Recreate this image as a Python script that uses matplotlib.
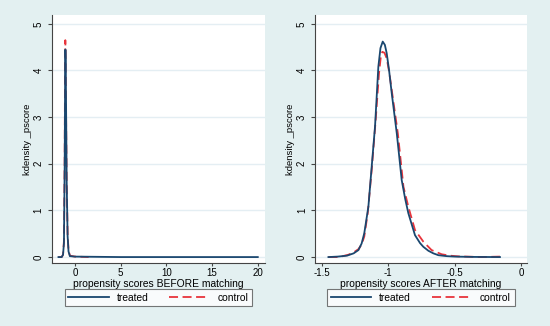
import matplotlib
matplotlib.use("Agg")
import matplotlib.pyplot as plt

# before matching (kernel density of propensity score)
beforeTreatedX = [-1.8, -1.45, -1.3, -1.2, -1.12, -1.07, -1.04, -1.01, -0.97, -0.9, -0.8, -0.7, -0.55, 0, 5, 10, 15, 20]
beforeTreatedY = [0, 0, 0.05, 0.3, 2.0, 3.9, 4.45, 4.2, 3.3, 1.6, 0.45, 0.12, 0.02, 0.01, 0, 0, 0, 0]
beforeControlX = [-1.8, -1.45, -1.3, -1.2, -1.12, -1.08, -1.05, -1.02, -0.98, -0.9, -0.8, -0.7, -0.55, 0, 1.5]
beforeControlY = [0, 0, 0.05, 0.35, 2.2, 4.1, 4.65, 4.3, 3.3, 1.6, 0.5, 0.15, 0.03, 0.01, 0]

# after matching
afterTreatedX = [-1.45, -1.38, -1.31, -1.26, -1.224, -1.2, -1.18, -1.149, -1.124, -1.099, -1.074, -1.058,
                 -1.041, -1.025, -1.011, -0.993, -0.973, -0.935, -0.898, -0.872, -0.848, -0.798, -0.76,
                 -0.735, -0.697, -0.66, -0.622, -0.56, -0.497, -0.35, -0.158]
afterTreatedY = [0, 0.01, 0.03, 0.08, 0.15, 0.29, 0.51, 1.08, 1.94, 2.80, 4.08, 4.48,
                 4.62, 4.55, 4.37, 4.0, 3.51, 2.65, 1.65, 1.25, 0.94, 0.47, 0.3,
                 0.22, 0.135, 0.08, 0.04, 0.02, 0.01, 0.003, 0]
afterControlX = [-1.45, -1.37, -1.30, -1.26, -1.224, -1.2, -1.18, -1.154, -1.124, -1.094, -1.069, -1.056,
                 -1.044, -1.028, -1.011, -0.993, -0.973, -0.927, -0.885, -0.848, -0.798, -0.735, -0.673,
                 -0.597, -0.535, -0.472, -0.296, -0.158]
afterControlY = [0, 0, 0.05, 0.1, 0.17, 0.27, 0.44, 0.94, 1.87, 2.94, 3.94, 4.28,
                 4.40, 4.38, 4.26, 3.98, 3.58, 2.65, 1.51, 1.08, 0.58, 0.33, 0.15,
                 0.06, 0.03, 0.015, 0, 0.01]

bgColor = '#e3f0f1'
blue = '#1a476f'
red = '#e8343c'

plt.rcParams['font.family'] = ['Liberation Sans', 'DejaVu Sans']

fig = plt.figure(figsize=(5.5, 3.26), dpi=100)
fig.patch.set_facecolor(bgColor)

def drawPanel(rect, tx, ty, cx, cy, xlim, xticks, xticklabels, xlabel):
    ax = fig.add_axes(rect)
    ax.set_facecolor('white')
    for y in range(0, 6):
        ax.axhline(y, color='#e4eef3', lw=1.0, zorder=0)
    ax.plot(cx, cy, color=red, lw=1.3, dashes=(5, 2.5), label='control', zorder=2)
    ax.plot(tx, ty, color=blue, lw=1.3, label='treated', zorder=3)
    ax.set_xlim(*xlim)
    ax.set_ylim(-0.129, 5.19)
    ax.set_yticks(range(0, 6))
    ax.set_yticklabels([str(v) for v in range(0, 6)], rotation=90, va='center', fontsize=7)
    ax.set_xticks(xticks)
    ax.set_xticklabels(xticklabels, fontsize=7)
    ax.tick_params(axis='x', length=2.5, width=0.8, color='#444444', pad=1)
    ax.tick_params(axis='y', length=3, width=0.8, color='#444444', pad=3)
    ax.spines['top'].set_visible(False)
    ax.spines['right'].set_visible(False)
    ax.spines['left'].set_color('#444444')
    ax.spines['bottom'].set_color('#444444')
    ax.set_xlabel(xlabel, fontsize=7.4, labelpad=0.5)
    ax.set_ylabel('kdensity _pscore', fontsize=6.8, labelpad=1.5)
    handles, labels = ax.get_legend_handles_labels()
    leg = ax.legend(handles[::-1], labels[::-1], ncol=2, loc='upper center',
                    bbox_to_anchor=(0.5, -0.105), fontsize=7.4, frameon=True,
                    fancybox=False, edgecolor='#555555', handlelength=3.9,
                    columnspacing=2.0, handletextpad=0.8, borderpad=0.35,
                    borderaxespad=0)
    leg.get_frame().set_linewidth(0.8)
    return ax

drawPanel([0.0945, 0.193, 0.387, 0.761], beforeTreatedX, beforeTreatedY,
          beforeControlX, beforeControlY, (-2.51, 20.77),
          [0, 5, 10, 15, 20], ['0', '5', '10', '15', '20'],
          'propensity scores BEFORE matching')
drawPanel([0.573, 0.193, 0.385, 0.761], afterTreatedX, afterTreatedY,
          afterControlX, afterControlY, (-1.55, 0.045),
          [-1.5, -1, -0.5, 0], ['-1.5', '-1', '-0.5', '0'],
          'propensity scores AFTER matching')

fig.savefig('out.png', dpi=100, facecolor=bgColor)
